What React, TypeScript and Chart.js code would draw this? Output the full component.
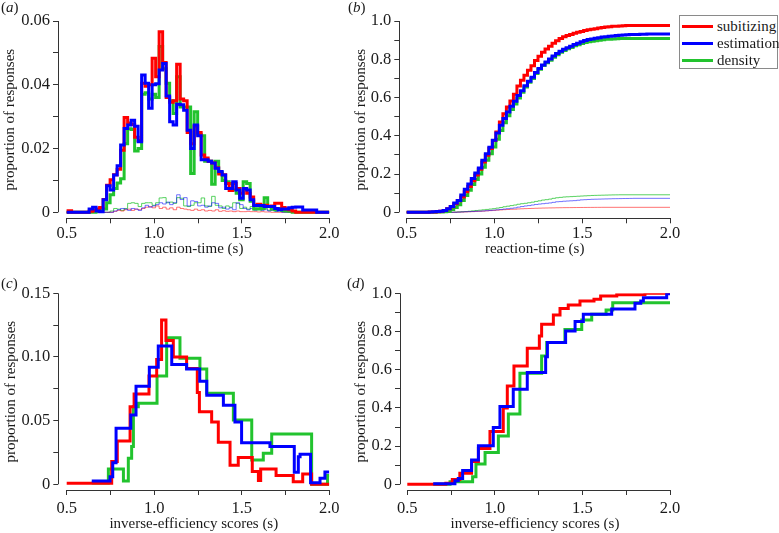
import React, { useEffect, useRef } from "react";
import { Chart, registerables } from "chart.js";

Chart.register(...registerables);

// ---------------- data ----------------
const SERIES_NAMES = ["subitizing", "estimation", "density"];

const X_TICKS = [0.5, 0.75, 1.0, 1.25, 1.5, 1.75, 2.0];
const X_TICK_LABELS = ["0.5", "", "1.0", "", "1.5", "", "2.0"];

const Y_A_TICKS = [0, 0.01, 0.02, 0.03, 0.04, 0.05, 0.06];
const Y_A_LABELS = ["0", "", "0.02", "", "0.04", "", "0.06"];
const Y_C_TICKS = [0, 0.025, 0.05, 0.075, 0.1, 0.125, 0.15];
const Y_C_LABELS = ["0", "", "0.05", "", "0.10", "", "0.15"];
const Y_P_TICKS = [0, 0.1, 0.2, 0.3, 0.4, 0.5, 0.6, 0.7, 0.8, 0.9, 1.0];
const Y_P_LABELS = ["0", "", "0.2", "", "0.4", "", "0.6", "", "0.8", "", "1.0"];

// (a) reaction-time histograms, bins of 0.02 s starting at A_BIN_START
const A_BIN_START = 0.508;
const A_BIN_WIDTH = 0.02;

const A_SUBITIZING = [
  0.0005, 0, 0, 0, 0, 0, 0.0003, 0.0006, 0.001, 0.0015,
  0.004, 0.0085, 0.0102, 0.0118, 0.0135, 0.0195, 0.0297, 0.028, 0.0275, 0.0235,
  0.0225, 0.0405, 0.0395, 0.04, 0.0483, 0.0425, 0.0566, 0.047, 0.036, 0.0345,
  0.035, 0.0464, 0.0355, 0.035, 0.025, 0.0215, 0.027, 0.025, 0.018, 0.017,
  0.016, 0.0155, 0.014, 0.012, 0.0118, 0.009, 0.0068, 0.009, 0.0075, 0.006,
  0.0075, 0.006, 0.0048, 0.0022, 0.0025, 0.0022, 0.0022, 0.0018, 0.002, 0.0028,
  0.0028, 0.0015, 0.001, 0.0008, 0.0004,
];
const A_ESTIMATION = [
  0, 0, 0, 0, 0, 0, 0.001, 0.0016, 0.0004, 0.0002,
  0.0039, 0.0083, 0.007, 0.0117, 0.0146, 0.0211, 0.0263, 0.0274, 0.0289, 0.027,
  0.0221, 0.0431, 0.0405, 0.0326, 0.04, 0.0403, 0.0446, 0.0467, 0.0365, 0.0284,
  0.0274, 0.0339, 0.0337, 0.032, 0.0257, 0.02, 0.0274, 0.024, 0.0165, 0.0165,
  0.016, 0.0155, 0.0138, 0.0128, 0.0117, 0.0075, 0.0075, 0.0096, 0.007, 0.0044,
  0.0075, 0.007, 0.0039, 0.0021, 0.0021, 0.0021, 0.0018, 0.0018, 0.0018, 0.0012,
  0.0008, 0.001, 0.001, 0.0014, 0.0016, 0.0017, 0.0017, 0.0007, 0.0007, 0.0007,
  0.0007,
];
const A_DENSITY = [
  0, 0, 0, 0, 0, 0, 0, 0, 0.0003, 0.0008,
  0.001, 0.003, 0.0055, 0.0075, 0.0092, 0.0105, 0.0215, 0.0262, 0.026, 0.0192,
  0.02, 0.037, 0.0375, 0.0355, 0.037, 0.036, 0.052, 0.045, 0.0405, 0.035,
  0.031, 0.0425, 0.033, 0.033, 0.033, 0.0122, 0.0315, 0.0245, 0.024, 0.016,
  0.016, 0.0088, 0.016, 0.0125, 0.01, 0.0096, 0.009, 0.007, 0.006, 0.0039,
  0.0096, 0.009, 0.0035, 0.001, 0.001, 0.0012, 0.0046, 0.0018, 0.001, 0.0008,
  0.0012, 0.0006, 0.0004, 0.0003,
];
// thin lines (errors)
const A_SUBITIZING_ERR = [
  0, 0, 0, 0, 0, 0, 0, 0, 0, 0,
  0, 0, 0, 0.0003, 0.0006, 0.0004, 0.0008, 0.001, 0.0006, 0.001,
  0.0008, 0.0012, 0.0016, 0.0018, 0.0014, 0.002, 0.0012, 0.0016, 0.001, 0.0014,
  0.0008, 0.0016, 0.0012, 0.001, 0.0008, 0.0006, 0.001, 0.0006, 0.0008, 0.0004,
  0.0006, 0.0004, 0.0008, 0.0003, 0.0005, 0.0003, 0.0004, 0.0002, 0.0004, 0.0002,
  0.0002, 0.0003, 0.0002, 0.0002, 0.0001, 0.0002, 0.0001, 0.0001,
];
const A_ESTIMATION_ERR = [
  0, 0, 0, 0, 0, 0, 0, 0, 0, 0,
  0, 0, 0, 0.0004, 0.0008, 0.0012, 0.001, 0.0006, 0.0012, 0.001,
  0.0006, 0.0014, 0.0022, 0.0016, 0.002, 0.0024, 0.003, 0.0026, 0.0032, 0.0024,
  0.003, 0.0055, 0.004, 0.0046, 0.002, 0.0036, 0.0034, 0.002, 0.0022, 0.0016,
  0.002, 0.003, 0.0028, 0.0014, 0.0016, 0.001, 0.0014, 0.0008, 0.003, 0.0024,
  0.0012, 0.0008, 0.0012, 0.0006, 0.001, 0.0006, 0.0008, 0.0004, 0.0006, 0.0003,
  0.0004,
];
const A_DENSITY_ERR = [
  0, 0, 0, 0, 0, 0, 0, 0, 0, 0,
  0, 0, 0.0004, 0.0012, 0.001, 0.0006, 0.0012, 0.0028, 0.003, 0.0028,
  0.0018, 0.0028, 0.003, 0.003, 0.0022, 0.003, 0.0045, 0.0046, 0.003, 0.0032,
  0.0028, 0.0046, 0.0044, 0.002, 0.0018, 0.0022, 0.003, 0.003, 0.0045, 0.002,
  0.0018, 0.005, 0.0022, 0.002, 0.0012, 0.002, 0.0016, 0.003, 0.0028, 0.0012,
  0.0016, 0.001, 0.0018, 0.0016, 0.0016, 0.0008, 0.0012, 0.0006, 0.0008, 0.0004,
  0.0006, 0.0004, 0.0003,
];

// (b) cumulative proportions, same bins
const B_SUBITIZING = [
  0.0005, 0.0005, 0.0005, 0.0005, 0.0005, 0.0005, 0.001, 0.002, 0.003, 0.005,
  0.009, 0.018, 0.029, 0.045, 0.06, 0.08, 0.108, 0.135, 0.165, 0.195,
  0.225, 0.263, 0.298, 0.333, 0.375, 0.42, 0.472, 0.515, 0.55, 0.582,
  0.617, 0.66, 0.69, 0.716, 0.742, 0.766, 0.793, 0.816, 0.836, 0.853,
  0.868, 0.884, 0.897, 0.908, 0.918, 0.924, 0.93, 0.936, 0.941, 0.945,
  0.95, 0.954, 0.957, 0.96, 0.963, 0.966, 0.968, 0.97, 0.972, 0.973,
  0.974, 0.975, 0.976, 0.976, 0.977,
];
const B_ESTIMATION = [
  0, 0, 0, 0, 0, 0, 0.001, 0.003, 0.004, 0.005,
  0.009, 0.018, 0.03, 0.048, 0.062, 0.09, 0.12, 0.148, 0.177, 0.205,
  0.232, 0.272, 0.306, 0.34, 0.377, 0.415, 0.455, 0.49, 0.524, 0.554,
  0.58, 0.61, 0.635, 0.662, 0.685, 0.706, 0.731, 0.752, 0.77, 0.786,
  0.802, 0.817, 0.83, 0.842, 0.852, 0.86, 0.868, 0.877, 0.884, 0.891,
  0.898, 0.903, 0.906, 0.91, 0.913, 0.916, 0.918, 0.92, 0.922, 0.924,
  0.926, 0.927, 0.928, 0.929, 0.93, 0.93, 0.931, 0.931, 0.932,
];
const B_DENSITY = [
  0, 0, 0, 0, 0, 0, 0, 0, 0.001, 0.002,
  0.003, 0.006, 0.014, 0.025, 0.04, 0.062, 0.088, 0.115, 0.145, 0.172,
  0.2, 0.236, 0.272, 0.306, 0.342, 0.382, 0.428, 0.468, 0.505, 0.538,
  0.566, 0.598, 0.628, 0.655, 0.68, 0.7, 0.725, 0.748, 0.768, 0.782,
  0.795, 0.81, 0.824, 0.836, 0.846, 0.855, 0.862, 0.87, 0.876, 0.882,
  0.887, 0.891, 0.894, 0.897, 0.9, 0.902, 0.904, 0.905, 0.906, 0.907,
  0.908, 0.908, 0.909,
];
const B_SUBITIZING_ERR = [
  0, 0, 0, 0, 0, 0, 0, 0, 0, 0,
  0, 0, 0, 0.0003, 0.001, 0.0014, 0.002, 0.003, 0.0035, 0.0045,
  0.0052, 0.0062, 0.0075, 0.0088, 0.01, 0.0115, 0.0125, 0.0138, 0.0146, 0.0157,
  0.0163, 0.0175, 0.0184, 0.0192, 0.0198, 0.0203, 0.0211, 0.0216, 0.0222, 0.0225,
  0.0229, 0.0232, 0.0237, 0.0239, 0.0242, 0.0244, 0.0246, 0.0248, 0.025, 0.0252,
  0.0254, 0.0255, 0.0256, 0.0258, 0.0259, 0.026,
];
const B_ESTIMATION_ERR = [
  0, 0, 0, 0, 0, 0, 0, 0, 0, 0,
  0, 0, 0, 0.0004, 0.001, 0.002, 0.003, 0.0035, 0.0045, 0.0055,
  0.006, 0.007, 0.0085, 0.01, 0.0115, 0.013, 0.015, 0.017, 0.019, 0.021,
  0.023, 0.027, 0.03, 0.033, 0.035, 0.038, 0.041, 0.043, 0.045, 0.047,
  0.049, 0.052, 0.055, 0.056, 0.058, 0.059, 0.06, 0.061, 0.063, 0.065,
  0.066, 0.067, 0.068, 0.0685, 0.069, 0.0695, 0.07, 0.0705, 0.071, 0.0713,
  0.0716, 0.072, 0.0723, 0.0726, 0.073,
];
const B_DENSITY_ERR = [
  0, 0, 0, 0, 0, 0, 0, 0, 0, 0,
  0, 0, 0.0005, 0.001, 0.002, 0.003, 0.004, 0.0055, 0.0075, 0.0095,
  0.011, 0.013, 0.015, 0.017, 0.019, 0.022, 0.025, 0.029, 0.032, 0.035,
  0.038, 0.042, 0.045, 0.047, 0.05, 0.053, 0.057, 0.06, 0.064, 0.066,
  0.069, 0.073, 0.076, 0.078, 0.08, 0.081, 0.082, 0.083, 0.084, 0.085,
  0.086, 0.087, 0.088, 0.0885, 0.089, 0.0895, 0.09, 0.0905, 0.091, 0.0912,
  0.0915,
];

// (c) inverse-efficiency histograms: bin edges and values
const C_SUBITIZING_EDGES = [0.5, 0.757, 0.789, 0.862, 0.885, 0.97, 1.014, 1.042, 1.067, 1.109, 1.185, 1.246, 1.258, 1.328, 1.366, 1.433, 1.48, 1.56, 1.595, 1.608, 1.696, 1.794, 1.848, 1.899, 2.0];
const C_SUBITIZING = [0.0008, 0.018, 0.034, 0.061, 0.071, 0.085, 0.098, 0.129, 0.113, 0.1, 0.091, 0.072, 0.057, 0.049, 0.033, 0.015, 0.021, 0.01, 0.003, 0.012, 0.007, 0.002, 0.008, 0];
const C_ESTIMATION_EDGES = [0.643, 0.7475, 0.763, 0.782, 0.866, 0.896, 0.972, 1.023, 1.1, 1.185, 1.26, 1.3, 1.395, 1.461, 1.499, 1.661, 1.8, 1.823, 1.833, 1.893, 1.947, 1.975, 2.0];
const C_ESTIMATION = [0.0026, 0.006, 0.017, 0.044, 0.0545, 0.077, 0.092, 0.1086, 0.094, 0.0905, 0.081, 0.07, 0.062, 0.049, 0.0327, 0.0296, 0.0094, 0.0217, 0.0236, 0.0013, 0.0047, 0.0097];
const C_DENSITY_EDGES = [0.643, 0.738, 0.824, 0.852, 0.871, 0.881, 0.909, 1.016, 1.071, 1.147, 1.261, 1.3, 1.452, 1.557, 1.623, 1.671, 1.899, 1.99, 2.0];
const C_DENSITY = [0.001, 0.012, 0.0026, 0.0204, 0.0296, 0.061, 0.0636, 0.085, 0.115, 0.099, 0.0905, 0.0715, 0.0505, 0.019, 0.0243, 0.0395, 0, 0.007];

// (d) cumulative proportions of inverse-efficiency scores
const D_SUBITIZING_EDGES = [0.5, 0.72, 0.757, 0.8, 0.867, 0.906, 0.972, 1.048, 1.071, 1.109, 1.185, 1.254, 1.267, 1.334, 1.372, 1.419, 1.486, 1.566, 1.604, 1.696, 1.857, 2.0];
const D_SUBITIZING = [0, 0.005, 0.025, 0.058, 0.119, 0.188, 0.276, 0.4, 0.515, 0.62, 0.712, 0.776, 0.838, 0.887, 0.921, 0.939, 0.96, 0.969, 0.986, 0.993, 1.0];
const D_ESTIMATION_EDGES = [0.648, 0.772, 0.791, 0.816, 0.867, 0.906, 0.991, 1.029, 1.105, 1.185, 1.29, 1.3, 1.404, 1.458, 1.505, 1.667, 1.8, 1.833, 1.848, 1.981, 2.0];
const D_ESTIMATION = [0.003, 0.019, 0.03, 0.072, 0.127, 0.202, 0.297, 0.407, 0.497, 0.585, 0.668, 0.742, 0.803, 0.852, 0.89, 0.918, 0.948, 0.96, 0.977, 0.997];
const D_DENSITY_EDGES = [0.648, 0.744, 0.873, 0.892, 0.944, 1.02, 1.077, 1.143, 1.267, 1.296, 1.4, 1.496, 1.553, 1.635, 1.673, 2.0];
const D_DENSITY = [0, 0.014, 0.04, 0.106, 0.166, 0.253, 0.368, 0.581, 0.672, 0.742, 0.81, 0.86, 0.89, 0.913, 0.951];

// ---------------- styling ----------------
const FONT = "'Liberation Serif', 'Times New Roman', serif";
const TEXT = "#1a1a1a";
const AXIS = "#333333";
const RED = "#ff0000";
const BLUE = "#0000ff";
const GREEN = "#22c32e";
const RED_T = "rgba(255,0,0,0.55)";
const BLUE_T = "rgba(0,0,255,0.55)";
const GREEN_T = "rgba(34,195,46,0.75)";
const COLORS = [RED, BLUE, GREEN];

type Pt = { x: number; y: number };

function binHistogram(values: number[]): Pt[] {
  const pts: Pt[] = [{ x: 0.5, y: 0 }];
  values.forEach((v, i) => pts.push({ x: A_BIN_START + A_BIN_WIDTH * i, y: v }));
  pts.push({ x: A_BIN_START + A_BIN_WIDTH * values.length, y: 0 });
  pts.push({ x: 2.0, y: 0 });
  return pts;
}
function binCumulative(values: number[]): Pt[] {
  const pts: Pt[] = [{ x: 0.5, y: 0 }];
  values.forEach((v, i) => pts.push({ x: A_BIN_START + A_BIN_WIDTH * i, y: v }));
  pts.push({ x: 2.0, y: values[values.length - 1] });
  return pts;
}
function edgeSteps(edges: number[], values: number[]): Pt[] {
  const pts: Pt[] = values.map((v, i) => ({ x: edges[i], y: v }));
  pts.push({ x: edges[edges.length - 1], y: values[values.length - 1] });
  return pts;
}

type Geo = {
  left: number; top: number; w: number; h: number;
  axisX: number; x05: number; x20: number;
  yTop: number; y0: number; axisY: number;
  xScaleH: number; yTitlePad: number; xTickPad: number;
};
type Series = { pts: Pt[]; color: string; width: number; order: number };

function makeConfig(
  geo: Geo, yMax: number, yTicks: number[], yLabels: string[], xTitle: string, series: Series[]
): any {
  const xPerPx = 1.5 / (geo.x20 - geo.x05);
  const xMin = 0.5 - (geo.x05 - geo.axisX) * xPerPx;
  const yPerPx = yMax / (geo.y0 - geo.yTop);
  const yMin = -(geo.axisY - geo.y0) * yPerPx;

  const axisLines = {
    id: "axisLines",
    afterDraw(chart: any) {
      const { ctx, chartArea } = chart;
      const xs = chart.scales.x;
      const ys = chart.scales.y;
      const ax = Math.round(chartArea.left - 0.5) + 0.5;
      const ay = Math.round(chartArea.bottom - 0.5) + 0.5;
      ctx.save();
      ctx.strokeStyle = AXIS;
      ctx.lineWidth = 1;
      ctx.beginPath();
      ctx.moveTo(ax, ys.getPixelForValue(yMax));
      ctx.lineTo(ax, ys.getPixelForValue(0));
      ctx.moveTo(xs.getPixelForValue(0.5), ay);
      ctx.lineTo(xs.getPixelForValue(2.0), ay);
      ctx.stroke();
      ctx.restore();
    },
  };

  return {
    type: "line",
    data: {
      datasets: series.map((s) => ({
        data: s.pts,
        borderColor: s.color,
        borderWidth: s.width,
        stepped: "before",
        pointRadius: 0,
        fill: false,
        tension: 0,
        order: s.order,
        borderCapStyle: "butt",
        borderJoinStyle: "miter",
      })),
    },
    options: {
      responsive: false,
      animation: false,
      events: [],
      devicePixelRatio: 1,
      layout: {
        padding: {
          left: 0,
          top: geo.yTop,
          right: geo.w - geo.x20,
          bottom: geo.h - geo.axisY - geo.xScaleH,
        },
      },
      plugins: { legend: { display: false }, tooltip: { enabled: false } },
      scales: {
        x: {
          type: "linear",
          min: xMin,
          max: 2.0,
          afterBuildTicks: (s: any) => {
            s.ticks = X_TICKS.map((v) => ({ value: v }));
          },
          afterFit: (s: any) => {
            s.height = geo.xScaleH;
          },
          ticks: {
            autoSkip: false,
            maxRotation: 0,
            padding: geo.xTickPad,
            color: TEXT,
            font: { family: FONT, size: 16.5 },
            callback: (_v: any, i: number) => X_TICK_LABELS[i],
          },
          grid: {
            display: true,
            drawOnChartArea: false,
            drawTicks: true,
            tickLength: 5,
            color: AXIS,
            lineWidth: 1,
          },
          border: { display: false },
          title: {
            display: true,
            text: xTitle,
            color: TEXT,
            font: { family: FONT, size: 15 },
            padding: { top: 0, bottom: 0 },
          },
        },
        y: {
          type: "linear",
          min: yMin,
          max: yMax,
          afterBuildTicks: (s: any) => {
            s.ticks = yTicks.map((v) => ({ value: v }));
          },
          afterFit: (s: any) => {
            s.width = geo.axisX;
          },
          ticks: {
            autoSkip: false,
            padding: 3,
            color: TEXT,
            font: { family: FONT, size: 16.5 },
            callback: (_v: any, i: number) => yLabels[i],
          },
          grid: {
            display: true,
            drawOnChartArea: false,
            drawTicks: true,
            tickLength: 5,
            color: AXIS,
            lineWidth: 1,
          },
          border: { display: false },
          title: {
            display: true,
            text: "proportion of responses",
            color: TEXT,
            font: { family: FONT, size: 15 },
            padding: { top: geo.yTitlePad, bottom: 0 },
          },
        },
      },
    },
    plugins: [axisLines],
  };
}

function Panel(props: { geo: Geo; config: any }) {
  const ref = useRef<HTMLCanvasElement>(null);
  useEffect(() => {
    const chart = new Chart(ref.current as HTMLCanvasElement, props.config);
    return () => chart.destroy();
  }, []);
  const g = props.geo;
  return (
    <canvas
      ref={ref}
      width={g.w}
      height={g.h}
      style={{ position: "absolute", left: g.left, top: g.top, width: g.w, height: g.h }}
    />
  );
}

const GEO_A: Geo = { left: 0, top: 0, w: 345, h: 262, axisX: 58, x05: 66.7, x20: 329.3, yTop: 21, y0: 212.3, axisY: 218.3, xScaleH: 40, yTitlePad: 1.5, xTickPad: 0 };
const GEO_B: Geo = { left: 345, top: 0, w: 434, h: 262, axisX: 54.3, x05: 61.7, x20: 325, yTop: 21, y0: 212.3, axisY: 218.3, xScaleH: 40, yTitlePad: 7, xTickPad: 0 };
const GEO_C: Geo = { left: 0, top: 262, w: 345, h: 271, axisX: 58.3, x05: 66.7, x20: 329.3, yTop: 31.3, y0: 222.3, axisY: 228, xScaleH: 43, yTitlePad: 2, xTickPad: 3.4 };
const GEO_D: Geo = { left: 345, top: 262, w: 434, h: 271, axisX: 55, x05: 62.3, x20: 325, yTop: 31.3, y0: 222.3, axisY: 228, xScaleH: 43, yTitlePad: 7, xTickPad: 3.4 };

const CONFIG_A = makeConfig(GEO_A, 0.06, Y_A_TICKS, Y_A_LABELS, "reaction-time (s)", [
  { pts: binHistogram(A_DENSITY_ERR), color: GREEN_T, width: 1, order: 5 },
  { pts: binHistogram(A_SUBITIZING_ERR), color: RED_T, width: 1, order: 4 },
  { pts: binHistogram(A_ESTIMATION_ERR), color: BLUE_T, width: 1, order: 3 },
  { pts: binHistogram(A_DENSITY), color: GREEN, width: 3, order: 2 },
  { pts: binHistogram(A_SUBITIZING), color: RED, width: 3, order: 1 },
  { pts: binHistogram(A_ESTIMATION), color: BLUE, width: 3, order: 0 },
]);
const CONFIG_B = makeConfig(GEO_B, 1.0, Y_P_TICKS, Y_P_LABELS, "reaction-time (s)", [
  { pts: binCumulative(B_DENSITY_ERR), color: GREEN_T, width: 1, order: 5 },
  { pts: binCumulative(B_SUBITIZING_ERR), color: RED_T, width: 1, order: 4 },
  { pts: binCumulative(B_ESTIMATION_ERR), color: BLUE_T, width: 1, order: 3 },
  { pts: binCumulative(B_DENSITY), color: GREEN, width: 3, order: 2 },
  { pts: binCumulative(B_SUBITIZING), color: RED, width: 3, order: 1 },
  { pts: binCumulative(B_ESTIMATION), color: BLUE, width: 3, order: 0 },
]);
const CONFIG_C = makeConfig(GEO_C, 0.15, Y_C_TICKS, Y_C_LABELS, "inverse-efficiency scores (s)", [
  { pts: edgeSteps(C_DENSITY_EDGES, C_DENSITY), color: GREEN, width: 3, order: 2 },
  { pts: edgeSteps(C_SUBITIZING_EDGES, C_SUBITIZING), color: RED, width: 3, order: 1 },
  { pts: edgeSteps(C_ESTIMATION_EDGES, C_ESTIMATION), color: BLUE, width: 3, order: 0 },
]);
const CONFIG_D = makeConfig(GEO_D, 1.0, Y_P_TICKS, Y_P_LABELS, "inverse-efficiency scores (s)", [
  { pts: edgeSteps(D_DENSITY_EDGES, D_DENSITY), color: GREEN, width: 3, order: 2 },
  { pts: edgeSteps(D_SUBITIZING_EDGES, D_SUBITIZING), color: RED, width: 3, order: 1 },
  { pts: edgeSteps(D_ESTIMATION_EDGES, D_ESTIMATION), color: BLUE, width: 3, order: 0 },
]);

function PanelLabel(props: { letter: string; left: number; top: number }) {
  return (
    <div
      style={{
        position: "absolute",
        left: props.left,
        top: props.top,
        fontFamily: FONT,
        fontSize: 15,
        lineHeight: "15px",
        color: TEXT,
        whiteSpace: "nowrap",
      }}
    >
      (<i>{props.letter}</i>)
    </div>
  );
}

function Legend() {
  const rows = SERIES_NAMES.map((name, i) => (
    <div key={name} style={{ position: "absolute", left: 0, top: 2 + i * 17, height: 17, width: 97 }}>
      <div
        style={{
          position: "absolute",
          left: 2,
          top: 7,
          width: 31,
          height: 3,
          background: COLORS[i],
        }}
      />
      <div
        style={{
          position: "absolute",
          left: 37,
          top: 0,
          fontFamily: FONT,
          fontSize: 15,
          lineHeight: "17px",
          color: TEXT,
          whiteSpace: "nowrap",
        }}
      >
        {name}
      </div>
    </div>
  ));
  return (
    <div
      style={{
        position: "absolute",
        left: 679,
        top: 15,
        width: 97,
        height: 52,
        border: "1px solid #8a8a8a",
        background: "#fff",
      }}
    >
      {rows}
    </div>
  );
}

export default function App() {
  return (
    <div
      style={{
        position: "absolute",
        left: 0,
        top: 0,
        width: 779,
        height: 533,
        background: "#ffffff",
        overflow: "hidden",
      }}
    >
      <Panel geo={GEO_A} config={CONFIG_A} />
      <Panel geo={GEO_B} config={CONFIG_B} />
      <Panel geo={GEO_C} config={CONFIG_C} />
      <Panel geo={GEO_D} config={CONFIG_D} />
      <PanelLabel letter="a" left={1} top={0} />
      <PanelLabel letter="b" left={348} top={0} />
      <PanelLabel letter="c" left={1} top={276} />
      <PanelLabel letter="d" left={347} top={276} />
      <Legend />
    </div>
  );
}
